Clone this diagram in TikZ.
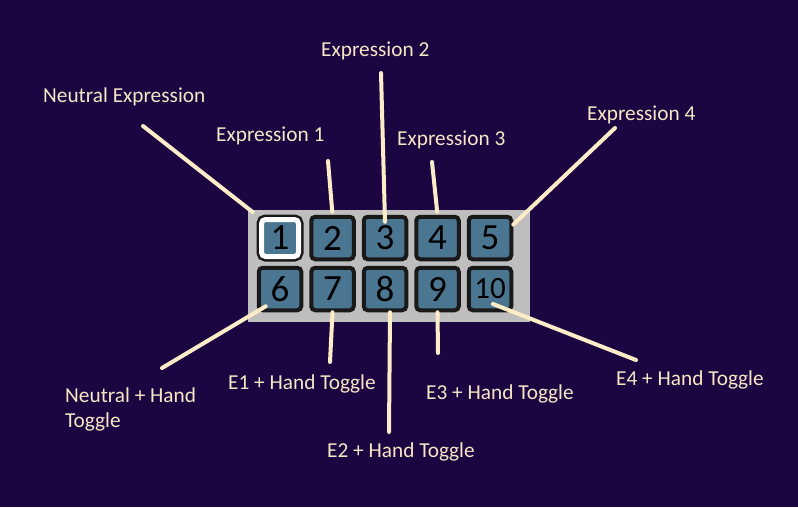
\documentclass[tikz,border=0pt]{standalone}
\usepackage{fontspec}
\setmainfont{Carlito}
\usepackage{tikz}
\usetikzlibrary{positioning}

\definecolor{bgpurple}{RGB}{27,6,66}
\definecolor{panelgrey}{RGB}{190,190,190}
\definecolor{keyblue}{RGB}{74,118,145}
\definecolor{pointerline}{RGB}{253,236,200}
\definecolor{labeltext}{RGB}{245,230,196}

\begin{document}
\begin{tikzpicture}[x=1pt, y=-1pt, node distance=52.5pt,
    key/.style={rounded corners=4pt, rectangle, draw=black!90, line width=4pt, fill=keyblue, minimum size=42.5pt, inner sep=0pt, font=\fontsize{37}{37}\selectfont},
    current/.style={draw=white, line width=5pt, minimum size=37pt, preaction={draw=black!90, line width=10pt}},
    lbl/.style={anchor=base west, inner sep=0pt, align=left, text=labeltext, font=\fontsize{21.3}{25}\selectfont},
    pointer/.style={draw=pointerline, line width=4pt, line cap=round}]
    \fill [bgpurple] (0,0) rectangle (798,507);

    % keypad
    \node [rectangle, fill=panelgrey, minimum width=282pt, minimum height=112pt] (panel) at (389,266) {};
    \node [key, current] (k1) at (280,238) {1};
    \node [key, right of=k1] (k2) {2};
    \node [key, right of=k2] (k3) {3};
    \node [key, right of=k3] (k4) {4};
    \node [key, right of=k4] (k5) {5};
    \node [key, below of=k1, node distance=51pt] (k6) {6};
    \node [key, right of=k6] (k7) {7};
    \node [key, right of=k7] (k8) {8};
    \node [key, right of=k8] (k9) {9};
    \node [key, right of=k9, font=\fontsize{31}{31}\selectfont] (k10) {10};

    % labels
    \node [lbl] (neutral) at (43,102) {Neutral Expression};
    \node [lbl] (expr1) at (216,141) {Expression 1};
    \node [lbl] (expr2) at (321,56) {Expression 2};
    \node [lbl] (expr3) at (397,145) {Expression 3};
    \node [lbl] (expr4) at (587,120) {Expression 4};
    \node [lbl] (neutralhand) at (65,427) {Neutral + Hand\\Toggle};
    \node [lbl] (e1hand) at (228,389) {E1 + Hand Toggle};
    \node [lbl] (e2hand) at (327,457) {E2 + Hand Toggle};
    \node [lbl] (e3hand) at (426,399) {E3 + Hand Toggle};
    \node [lbl] (e4hand) at (616,385) {E4 + Hand Toggle};

    % free ends of the pointers
    \coordinate (neutral end) at (143,126);
    \coordinate (expr1 end) at (328,161);
    \coordinate (expr2 end) at (381,73);
    \coordinate (expr3 end) at (432,162);
    \coordinate (expr4 end) at (615,128);
    \coordinate (neutralhand end) at (162,368);
    \coordinate (e1hand end) at (330,362);
    \coordinate (e2hand end) at (389,432);
    \coordinate (e3hand end) at (438,353);
    \coordinate (e4hand end) at (636,360);

    \path [pointer, shorten >=8pt] (neutral end) -- (k1.north west);
    \path [pointer, shorten >=3pt] (expr1 end) -- (k2.north);
    \path [pointer] (expr2 end) -- ([yshift=-7pt]k3.north);
    \path [pointer, shorten >=3pt] (expr3 end) -- (k4.north);
    \path [pointer] (expr4 end) -- (k5.30);
    \path [pointer] (neutralhand end) -- ([shift={(9,-6)}]k6.south west);
    \path [pointer] (e1hand end) -- (k7.south);
    \path [pointer] (e2hand end) -- ([xshift=5pt]k8.south);
    \path [pointer] (e3hand end) -- (k9.south);
    \path [pointer] (e4hand end) -- ([shift={(3,15)}]k10.center);
\end{tikzpicture}
\end{document}
